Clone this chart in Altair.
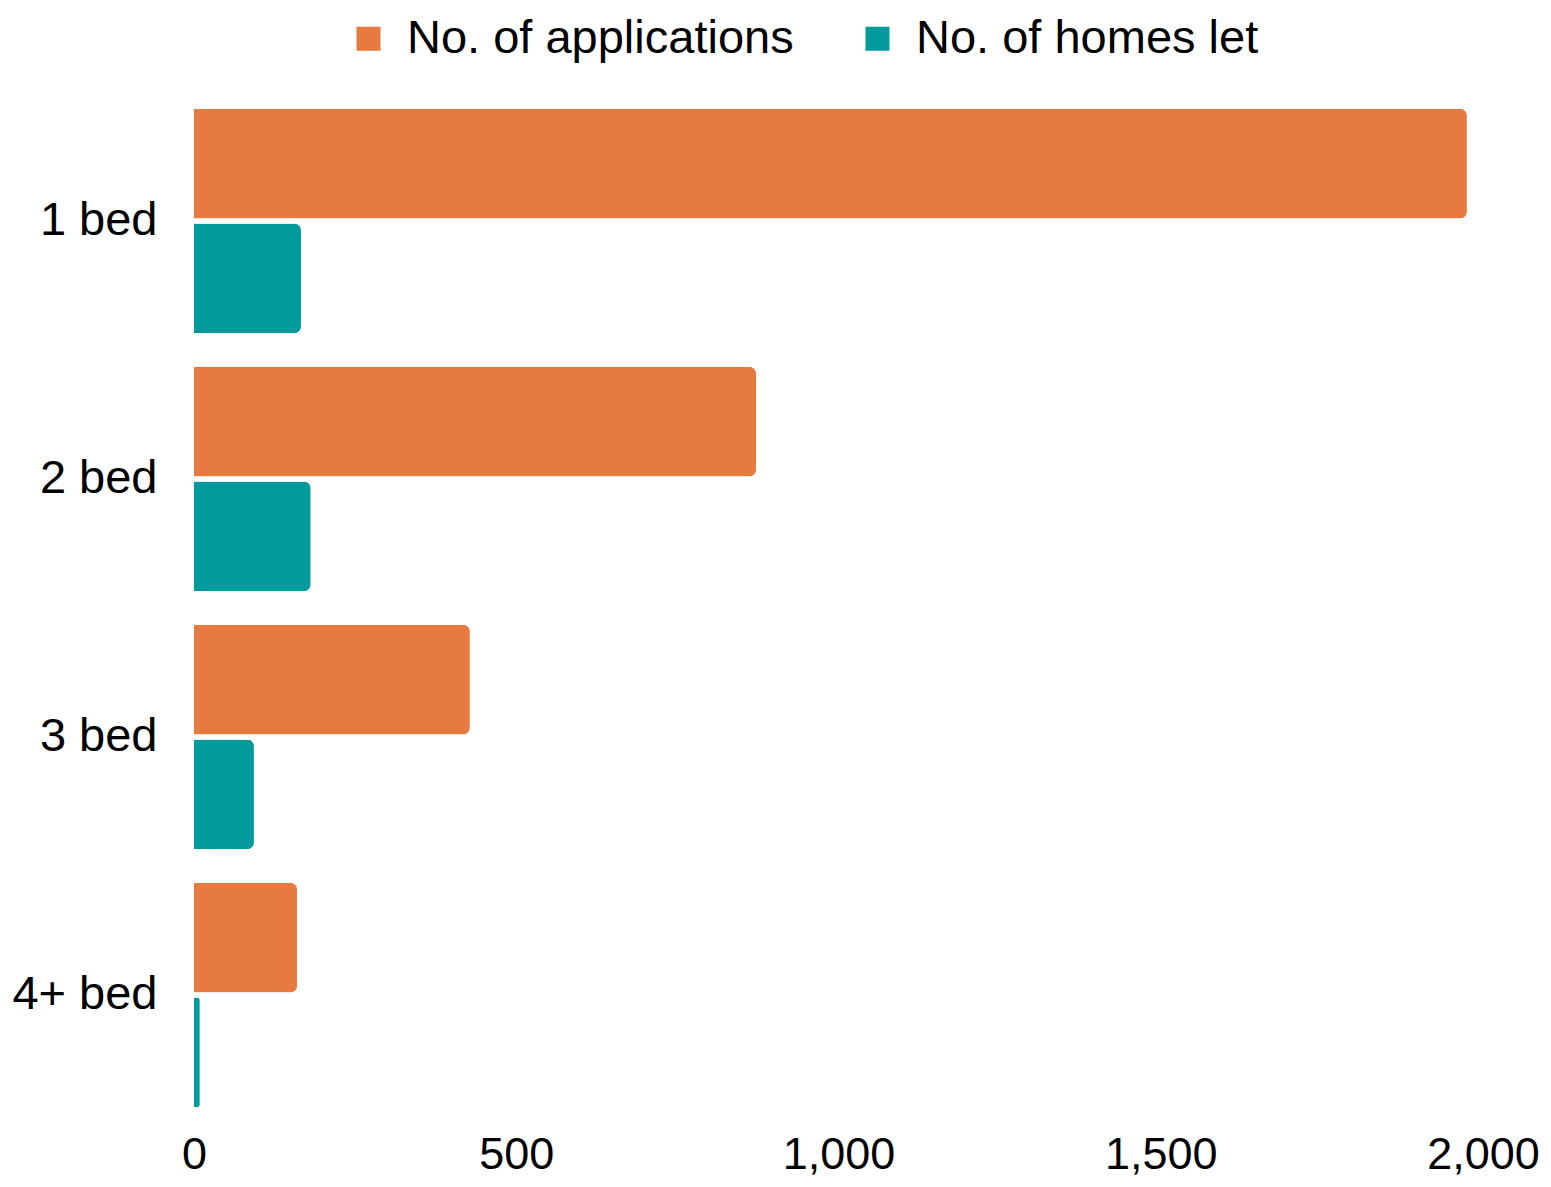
import altair as alt
import pandas as pd

categories = ["1 bed", "2 bed", "3 bed", "4+ bed"]
applications = [1975, 872, 428, 160]
homes_let = [166, 181, 93, 9]
series = ["No. of applications", "No. of homes let"]
colors = ["#E67A40", "#039A9E"]
x_ticks = [0, 500, 1000, 1500, 2000]

rows = []
for c, a, h in zip(categories, applications, homes_let):
    rows.append({"bed": c, "series": series[0], "value": a})
    rows.append({"bed": c, "series": series[1], "value": h})
df = pd.DataFrame(rows)

FONT = "Liberation Sans"

chart = alt.Chart(df).mark_bar(cornerRadiusEnd=7).encode(
    y=alt.Y("bed:N", sort=categories, title=None,
            scale=alt.Scale(paddingInner=0.13, paddingOuter=0.065),
            axis=alt.Axis(ticks=False, domain=False, labelFontSize=47, labelFont=FONT,
                          labelColor="#000000", labelPadding=37, labelLimit=400)),
    yOffset=alt.YOffset("series:N", sort=series, scale=alt.Scale(paddingInner=0.045)),
    x=alt.X("value:Q", title=None,
            scale=alt.Scale(domain=[0, 2000], nice=False),
            axis=alt.Axis(values=x_ticks, format=",.0f", grid=False, ticks=False, domain=False,
                          labelFontSize=45, labelFont=FONT, labelColor="#000000",
                          labelPadding=8, labelFlush=False, labelOverlap=False)),
    color=alt.Color("series:N", sort=series,
                    scale=alt.Scale(domain=series, range=colors),
                    legend=alt.Legend(title=None, orient="none", direction="horizontal",
                                      legendX=151, legendY=-77,
                                      symbolType="square", symbolSize=576,
                                      symbolStrokeWidth=0,
                                      labelFontSize=47, labelFont=FONT, labelColor="#000000",
                                      labelOffset=15, columnPadding=60, labelLimit=600)),
).properties(
    width=1289, height=1032,
    autosize=alt.AutoSizeParams(type="none"),
    padding={"top": 84, "left": 186, "right": 58, "bottom": 54},
).configure_view(stroke=None)

chart.save("out.html", embed_options={"renderer": "svg", "actions": False})
